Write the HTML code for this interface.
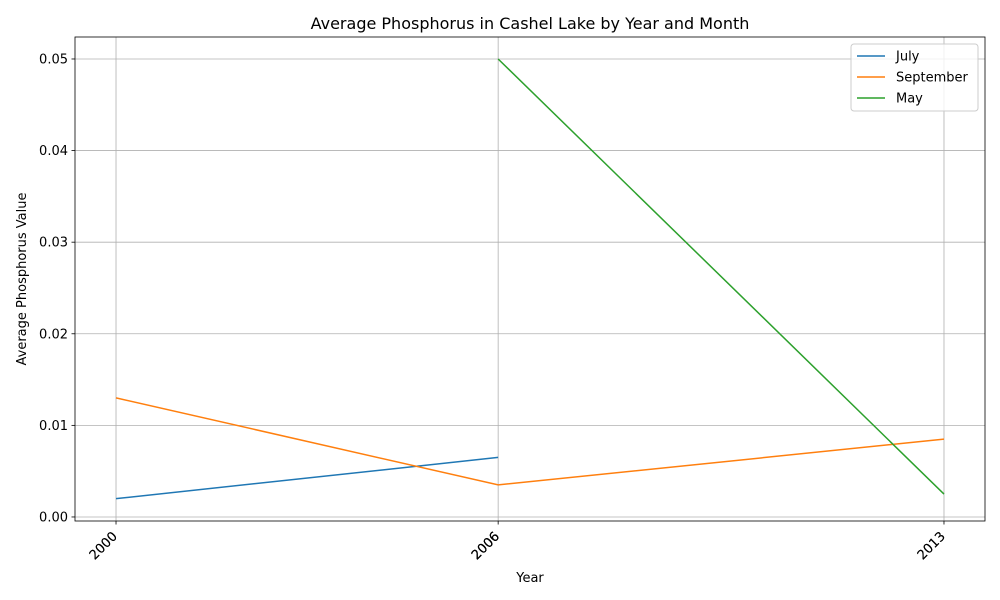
<!DOCTYPE html>
<html><head><meta charset="utf-8">
<style>
html,body{margin:0;padding:0;background:#fff;}
svg{display:block;font-family:"DejaVu Sans","Liberation Sans",sans-serif;}
</style></head>
<body>
<svg id="chart" width="1000" height="600" viewBox="0 0 1000 600">
<rect width="1000" height="600" fill="#fff"/>
<text x="530" y="29" text-anchor="middle" font-size="16" fill="#000">Average Phosphorus in Cashel Lake by Year and Month</text>
<text x="530" y="582" text-anchor="middle" font-size="13">Year</text>
<text transform="translate(26,279) rotate(-90)" text-anchor="middle" font-size="13">Average Phosphorus Value</text>
<g id="grid"></g><g id="series"></g><g id="axes"></g>
<g id="legend"></g>
</svg>
<script>
const yearTicks = [2000, 2006, 2013];
const yTicks = [0, 0.01, 0.02, 0.03, 0.04, 0.05];
const yTickLabels = ["0.00","0.01","0.02","0.03","0.04","0.05"];
const seriesNames = ["July","September","May"];
const julyYears = [2000, 2006];
const julyValues = [0.002, 0.0065];
const septemberYears = [2000, 2006, 2013];
const septemberValues = [0.013, 0.0035, 0.0085];
const mayYears = [2006, 2013];
const mayValues = [0.05, 0.0025];
const colors = ["#1f77b4","#ff7f0e","#2ca02c"];

const L=75,R=985,T=37,B=521;
const X0=1999.356,X1=2013.644,Y0=-0.00044,Y1=0.05240;
const sx=v=>L+(v-X0)/(X1-X0)*(R-L);
const sy=v=>B-(v-Y0)/(Y1-Y0)*(B-T);
const NS="http://www.w3.org/2000/svg";
function mk(tag,attrs,parent){const e=document.createElementNS(NS,tag);for(const k in attrs)e.setAttribute(k,attrs[k]);parent.appendChild(e);return e;}
const grid=document.getElementById('grid'),axes=document.getElementById('axes'),ser=document.getElementById('series'),leg=document.getElementById('legend');

yTicks.forEach((v,i)=>{
  const g=mk('line',{x1:L,x2:R,y1:sy(v),y2:sy(v),stroke:'#b0b0b0','stroke-width':0.8},grid);
  
  
  mk('line',{x1:L-3.5,x2:L,y1:sy(v),y2:sy(v),stroke:'#000','stroke-width':0.8},axes);
  const t=mk('text',{x:L-7,y:sy(v)+4.5,'text-anchor':'end','font-size':13},axes);
  t.textContent=yTickLabels[i];
  
  
});
const allYears=[julyYears,septemberYears,mayYears];
yearTicks.forEach(y=>{
  const g=mk('line',{x1:sx(y),x2:sx(y),y1:T,y2:B,stroke:'#b0b0b0','stroke-width':0.8},grid);
  
  
  mk('line',{x1:sx(y),x2:sx(y),y1:B,y2:B+3.5,stroke:'#000','stroke-width':0.8},axes);
  const reps=allYears.filter(a=>a.includes(y)).length;
  for(let k=0;k<reps;k++){
    const t=mk('text',{transform:`translate(${sx(y)+2},${B+16}) rotate(-45)`,'text-anchor':'end','font-size':13},axes);
    t.textContent=y;
    
    
  }
});
const fr=mk('rect',{x:L,y:T,width:R-L,height:B-T,fill:'none',stroke:'#000','stroke-width':0.8},axes);



const data=[[julyYears,julyValues],[septemberYears,septemberValues],[mayYears,mayValues]];
data.forEach(([xs,vs],i)=>{
  const p=mk('polyline',{points:xs.map((x,j)=>sx(x)+','+sy(vs[j])).join(' '),fill:'none',stroke:colors[i],'stroke-width':1.5},ser);
  
  
});

const lb=mk('rect',{x:851,y:44,width:127,height:67,rx:3,fill:'#fff','fill-opacity':0.8,stroke:'#cccccc'},leg);


seriesNames.forEach((n,i)=>{
  const y=56+i*21;
  mk('line',{x1:857,x2:885,y1:y,y2:y,stroke:colors[i],'stroke-width':1.5},leg);
  const t=mk('text',{x:896,y:y+4.5,'font-size':13},leg);
  t.textContent=n;
  
  
});
</script>
</body></html>
